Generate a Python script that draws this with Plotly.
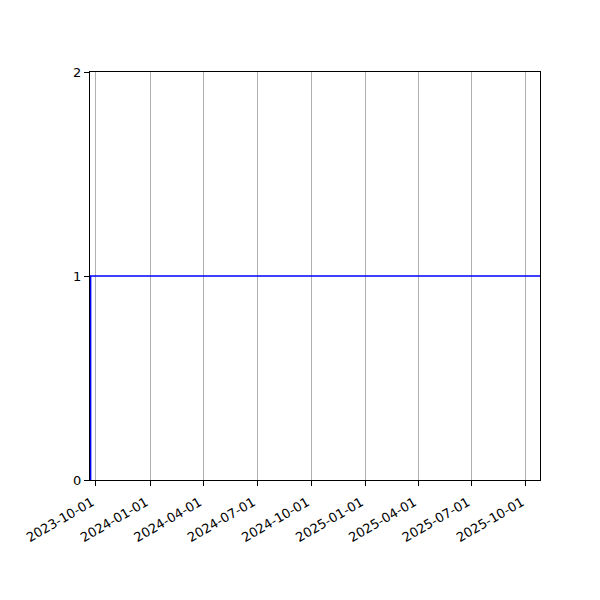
import plotly.graph_objects as go

# Data
dates = ["2023-09-22", "2023-09-22", "2025-10-25"]
values = [0, 1, 1]
tick_dates = ["2023-10-01", "2024-01-01", "2024-04-01", "2024-07-01", "2024-10-01",
              "2025-01-01", "2025-04-01", "2025-07-01", "2025-10-01"]
y_ticks = [0, 1, 2]

fig = go.Figure()
fig.add_trace(go.Scatter(x=dates, y=values, mode="lines",
                         line=dict(color="#0000ff", width=1.6), showlegend=False))

# page body has an 8px margin, so offsets compensate
fig.update_layout(
    width=600, height=600,
    margin=dict(l=82, r=68, t=64, b=128),
    paper_bgcolor="white", plot_bgcolor="white",
    font=dict(family="DejaVu Sans", size=13, color="black"),
)
fig.update_xaxes(
    type="date", range=["2023-09-21", "2025-10-25"],
    tickvals=tick_dates, ticktext=tick_dates, tickangle=-30,
    ticklabelshift=-4, ticklabelstandoff=4,
    showgrid=True, gridcolor="#b0b0b0", gridwidth=1,
    showline=True, linecolor="black", linewidth=1, mirror=True,
    ticks="outside", ticklen=5, tickcolor="black", zeroline=False,
)
fig.update_yaxes(
    range=[0, 2], tickvals=y_ticks,
    showgrid=False, zeroline=False,
    showline=True, linecolor="black", linewidth=1, mirror=True,
    ticks="outside", ticklen=5, tickcolor="black",
)
fig.write_html("out.html")
